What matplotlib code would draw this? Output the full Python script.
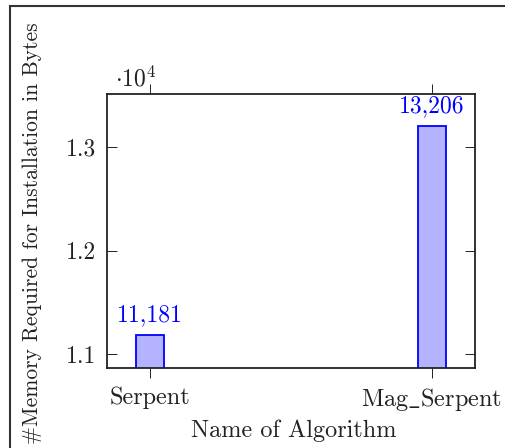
import matplotlib
matplotlib.use("Agg")
import matplotlib.pyplot as plt
from matplotlib.patches import Rectangle
from matplotlib.ticker import FixedLocator, FuncFormatter

# Installation memory footprint per algorithm
algorithms = ["Serpent", r"$\mathrm{Mag\_Serpent}$"]
memory_bytes = [11181, 13206]
value_labels = ["11,181", "13,206"]
y_ticks = [11000, 12000, 13000]

plt.rcParams["font.family"] = "cmr10"
plt.rcParams["mathtext.fontset"] = "cm"
plt.rcParams["axes.unicode_minus"] = False
plt.rcParams["axes.formatter.use_mathtext"] = True

W, H = 505, 448
fig = plt.figure(figsize=(W / 100, H / 100), dpi=100)
ax = fig.add_axes([107 / W, 80 / H, 368 / W, 274 / H])

x = list(range(len(algorithms)))
bars = ax.bar(x, memory_bytes, width=0.096, color="#b3b3ff",
              edgecolor="#0000ff", linewidth=1.3, zorder=2)

for xi, val, lab in zip(x, memory_bytes, value_labels):
    ax.annotate(lab, (xi, val), xytext=(0, 10), textcoords="offset points",
                ha="center", va="baseline", color="#0000ff", fontsize=17)

ax.set_xlim(-0.1525, 1.1525)
ax.set_ylim(10865, 13512)
ax.set_xticks(x)
ax.set_xticklabels(algorithms, fontsize=17.5)
ax.yaxis.set_major_locator(FixedLocator(y_ticks))
ax.yaxis.set_major_formatter(FuncFormatter(lambda v, p: f"{v / 1e4:.1f}"))
ax.tick_params(axis="y", labelsize=17, direction="in", length=7,
               width=0.7, left=True, right=True, pad=8, colors="#222222")
ax.tick_params(axis="x", direction="out", length=7, width=0.7,
               bottom=True, top=True, pad=6, colors="#222222")
for s in ax.spines.values():
    s.set_linewidth(1.3)
    s.set_color("#222222")

fig.text(136 / W, 1 - 79 / H, r"$\cdot 10^4$", fontsize=17,
         ha="center", va="center", color="#222222")

ax.set_xlabel("Name of Algorithm", fontsize=17.5, color="#222222")
ax.xaxis.set_label_coords(294 / W, 1 - 419 / H, transform=fig.transFigure)
ax.set_ylabel("#Memory Required for Installation in Bytes", fontsize=15.5,
              color="#222222")
ax.yaxis.set_label_coords(42 / W, 1 - 233 / H, transform=fig.transFigure)

fig.patches.append(Rectangle((10 / W, -0.1), 1.2, 1.1 - 6 / H,
                             transform=fig.transFigure, fill=False,
                             edgecolor="#333333", linewidth=1.5))

fig.savefig("out.png", dpi=100)
